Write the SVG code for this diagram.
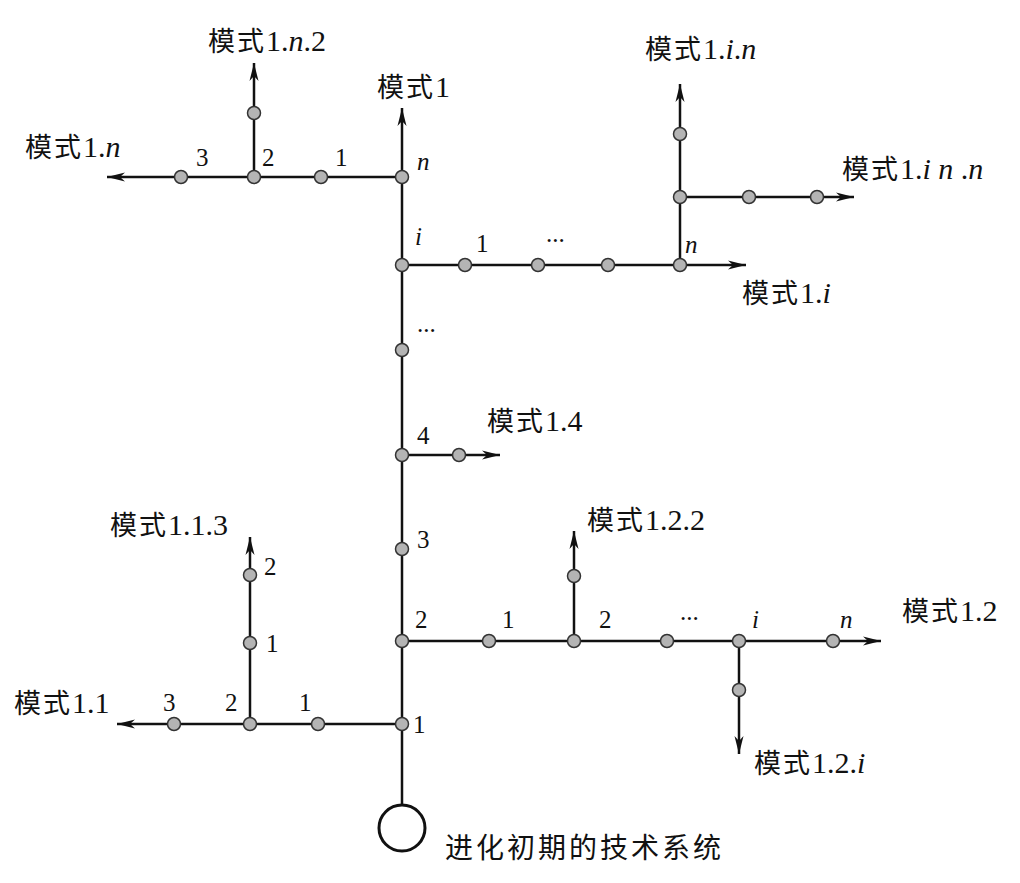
<svg xmlns="http://www.w3.org/2000/svg" width="1020" height="883" viewBox="0 0 1020 883">
<style>
.ln{stroke:#111;stroke-width:2.5;fill:none}
.ar{marker-end:url(#ah)}
.nd{fill:#b4b4b4;stroke:#333;stroke-width:1.5}
text{font-family:"Liberation Serif","Noto Sans CJK SC",serif;fill:#111}
.lb{font-size:30px}
.lb .zh{font-size:27px;letter-spacing:2px;font-family:"Noto Sans CJK SC","Liberation Serif",serif;font-weight:400}
.d{font-size:25px}
.it{font-style:italic}
</style>
<defs>
<marker id="ah" markerUnits="userSpaceOnUse" markerWidth="22" markerHeight="12" viewBox="-1 -6 22 12" refX="18" refY="0" orient="auto">
<path d="M0,-4.5 L18,0 L0,4.5 L5,0 z" fill="#111"/>
</marker>
</defs>
<rect width="1020" height="883" fill="#fff"/>
<g id="connectors">
<line class="ln ar" x1="402" y1="804" x2="402" y2="108"/>
<line class="ln ar" x1="402" y1="177" x2="107" y2="177"/>
<line class="ln ar" x1="254" y1="177" x2="254" y2="63"/>
<line class="ln ar" x1="402" y1="265" x2="746" y2="265"/>
<line class="ln ar" x1="680" y1="265" x2="680" y2="84"/>
<line class="ln ar" x1="680" y1="197" x2="854" y2="197"/>
<line class="ln ar" x1="402" y1="455" x2="500" y2="455"/>
<line class="ln ar" x1="402" y1="641" x2="881" y2="641"/>
<line class="ln ar" x1="574" y1="641" x2="574" y2="531"/>
<line class="ln ar" x1="739" y1="641" x2="739" y2="754"/>
<line class="ln ar" x1="402" y1="724" x2="117" y2="724"/>
<line class="ln ar" x1="250" y1="724" x2="250" y2="537"/>
</g>
<g id="root"><circle cx="402" cy="828" r="23" fill="#fff" stroke="#111" stroke-width="3"/></g>
<g id="nodes">
<g id="t1"><circle class="nd" cx="402" cy="724" r="6.5"/></g>
<g id="t2"><circle class="nd" cx="402" cy="641" r="6.5"/></g>
<g id="t3"><circle class="nd" cx="402" cy="549" r="6.5"/></g>
<g id="t4"><circle class="nd" cx="402" cy="455" r="6.5"/></g>
<g id="tdots"><circle class="nd" cx="402" cy="350" r="6.5"/></g>
<g id="ti"><circle class="nd" cx="402" cy="265" r="6.5"/></g>
<g id="tn"><circle class="nd" cx="402" cy="177" r="6.5"/></g>
<g id="n1"><circle class="nd" cx="321" cy="177" r="6.5"/></g>
<g id="n2"><circle class="nd" cx="254" cy="177" r="6.5"/></g>
<g id="n3"><circle class="nd" cx="181" cy="177" r="6.5"/></g>
<g id="n2a"><circle class="nd" cx="254" cy="113" r="6.5"/></g>
<g id="i1"><circle class="nd" cx="465" cy="265" r="6.5"/></g>
<g id="i2"><circle class="nd" cx="538" cy="265" r="6.5"/></g>
<g id="i3"><circle class="nd" cx="608" cy="265" r="6.5"/></g>
<g id="in"><circle class="nd" cx="680" cy="265" r="6.5"/></g>
<g id="in1"><circle class="nd" cx="680" cy="197" r="6.5"/></g>
<g id="in2"><circle class="nd" cx="680" cy="134" r="6.5"/></g>
<g id="inn1"><circle class="nd" cx="749" cy="197" r="6.5"/></g>
<g id="inn2"><circle class="nd" cx="817" cy="197" r="6.5"/></g>
<g id="f1"><circle class="nd" cx="459" cy="455" r="6.5"/></g>
<g id="s1"><circle class="nd" cx="489" cy="641" r="6.5"/></g>
<g id="s2"><circle class="nd" cx="574" cy="641" r="6.5"/></g>
<g id="s22"><circle class="nd" cx="574" cy="576" r="6.5"/></g>
<g id="s3"><circle class="nd" cx="667" cy="641" r="6.5"/></g>
<g id="si"><circle class="nd" cx="739" cy="641" r="6.5"/></g>
<g id="si1"><circle class="nd" cx="739" cy="690" r="6.5"/></g>
<g id="sn"><circle class="nd" cx="833" cy="641" r="6.5"/></g>
<g id="o1"><circle class="nd" cx="318" cy="724" r="6.5"/></g>
<g id="o2"><circle class="nd" cx="250" cy="724" r="6.5"/></g>
<g id="o3"><circle class="nd" cx="174" cy="724" r="6.5"/></g>
<g id="o21"><circle class="nd" cx="250" cy="643" r="6.5"/></g>
<g id="o22"><circle class="nd" cx="250" cy="575" r="6.5"/></g>
</g>
<g id="labels">
<text class="lb" x="208" y="51"><tspan class="zh">模式</tspan>1.<tspan class="it">n</tspan>.2</text>
<text class="lb" x="377" y="97"><tspan class="zh">模式</tspan>1</text>
<text class="lb" x="25" y="157"><tspan class="zh">模式</tspan>1.<tspan class="it">n</tspan></text>
<text class="d" x="196" y="166">3</text>
<text class="d" x="262" y="166">2</text>
<text class="d" x="335" y="166">1</text>
<text class="d it" x="417" y="170">n</text>
<text class="lb" x="645" y="59"><tspan class="zh">模式</tspan>1.<tspan class="it">i</tspan>.<tspan class="it">n</tspan></text>
<text class="lb" x="842" y="179"><tspan class="zh">模式</tspan>1.<tspan class="it">i</tspan> <tspan class="it">n</tspan> .<tspan class="it">n</tspan></text>
<text class="d it" x="415" y="245">i</text>
<text class="d" x="476" y="252">1</text>
<text class="d" x="546" y="242">...</text>
<text class="d it" x="685" y="253">n</text>
<text class="lb" x="742" y="303"><tspan class="zh">模式</tspan>1.<tspan class="it">i</tspan></text>
<text class="d" x="417" y="332">...</text>
<text class="d" x="417" y="444">4</text>
<text class="lb" x="487" y="431"><tspan class="zh">模式</tspan>1.4</text>
<text class="d" x="417" y="548">3</text>
<text class="lb" x="110" y="535"><tspan class="zh">模式</tspan>1.1.3</text>
<text class="d" x="264" y="575">2</text>
<text class="d" x="266" y="652">1</text>
<text class="lb" x="587" y="530"><tspan class="zh">模式</tspan>1.2.2</text>
<text class="d" x="415" y="628">2</text>
<text class="d" x="502" y="628">1</text>
<text class="d" x="599" y="628">2</text>
<text class="d" x="680" y="620">...</text>
<text class="d it" x="752" y="628">i</text>
<text class="d it" x="840" y="628">n</text>
<text class="lb" x="902" y="621"><tspan class="zh">模式</tspan>1.2</text>
<text class="lb" x="14" y="713"><tspan class="zh">模式</tspan>1.1</text>
<text class="d" x="163" y="711">3</text>
<text class="d" x="225" y="711">2</text>
<text class="d" x="299" y="711">1</text>
<text class="d" x="413" y="733">1</text>
<text class="lb" x="754" y="773"><tspan class="zh">模式</tspan>1.2.<tspan class="it">i</tspan></text>
<text x="445" y="858" style="font-family:'Noto Sans CJK SC',sans-serif;font-size:28px;letter-spacing:3px;font-weight:400">进化初期的技术系统</text>
</g>
</svg>
